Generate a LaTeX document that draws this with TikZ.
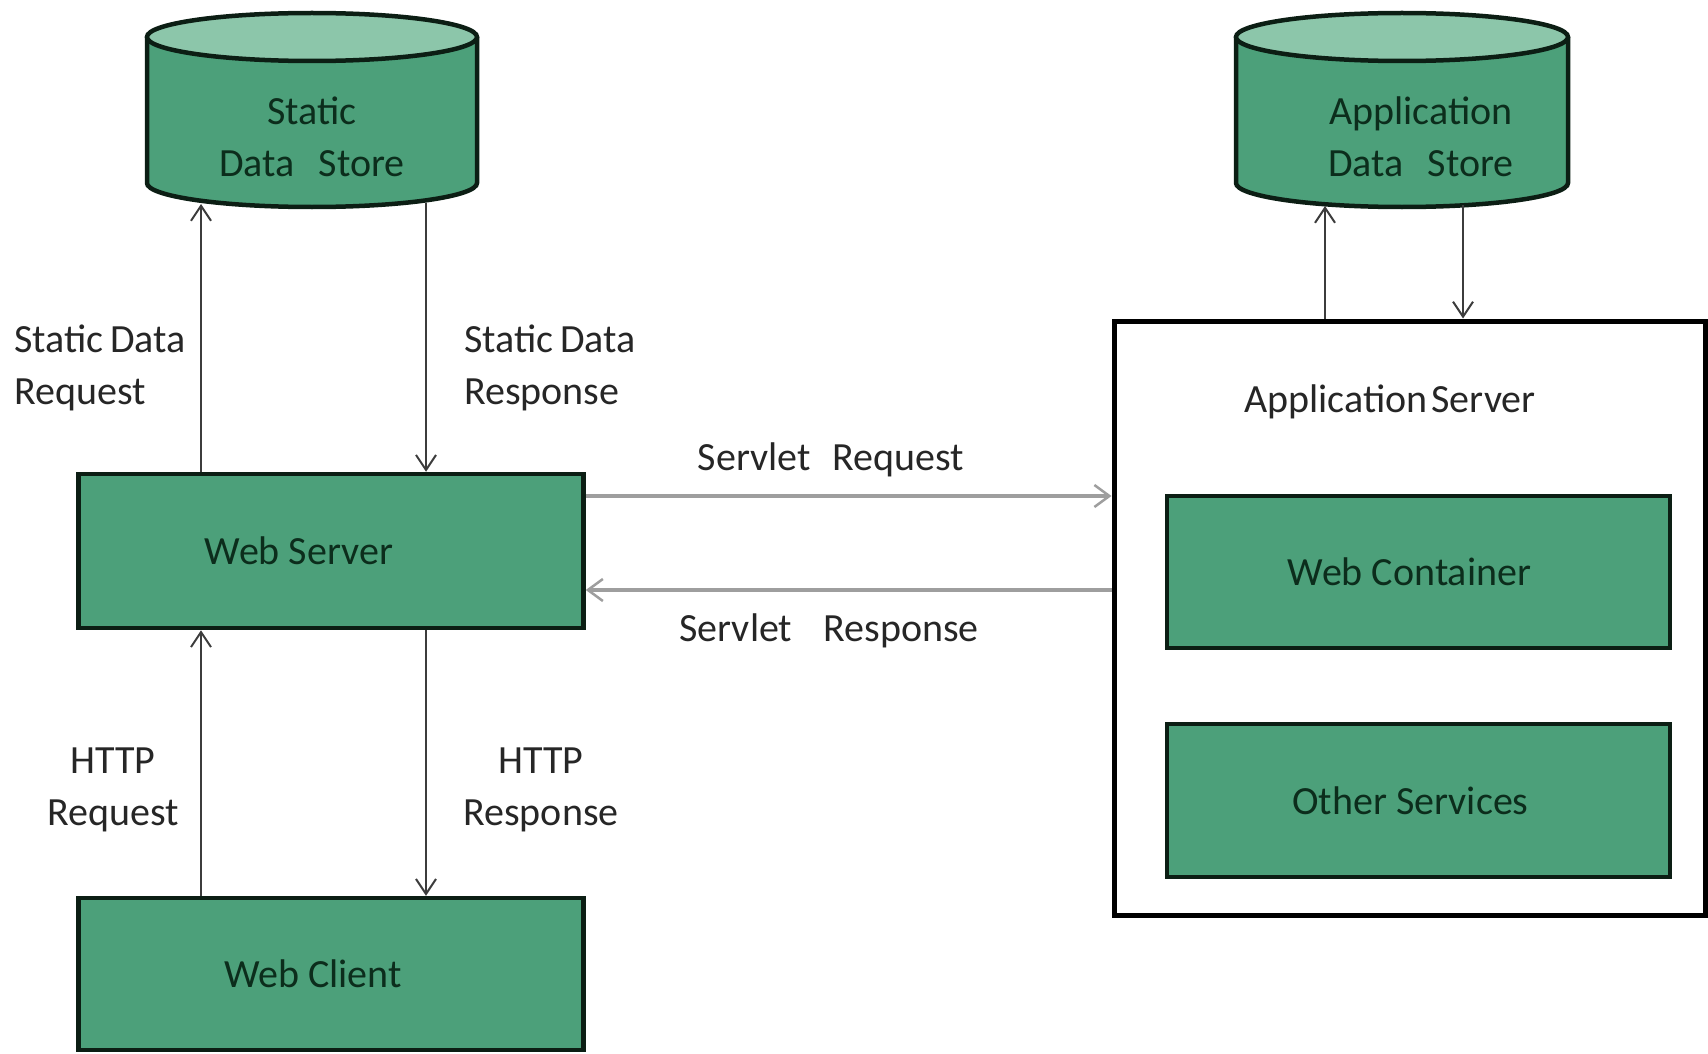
\documentclass[tikz,border=0pt]{standalone}
\usepackage{fontspec}
\setmainfont{Carlito}
\usetikzlibrary{arrows.meta}
\definecolor{boxgreen}{RGB}{76,160,122}
\definecolor{topgreen}{RGB}{140,198,170}
\definecolor{boxline}{RGB}{12,30,20}
\definecolor{boxtextc}{RGB}{12,45,28}
\definecolor{lblgray}{RGB}{38,38,38}
\definecolor{servgray}{RGB}{158,158,158}
\definecolor{vgray}{RGB}{60,60,60}
\newcommand{\bigtxt}{\fontsize{40}{52}\selectfont}
\tikzset{
  box/.style={draw=boxline, line width=4.5pt, fill=boxgreen, rectangle, inner sep=0pt},
  outerbox/.style={draw=black, line width=5pt, fill=white, rectangle, inner sep=0pt},
  boxtext/.style={text=boxtextc, font=\bigtxt, inner sep=0pt},
  cyltext/.style={text=boxtextc, font=\bigtxt, inner sep=0pt, align=center},
  lbl/.style={text=lblgray, font=\bigtxt, inner sep=0pt},
  cylbody/.style={fill=boxgreen},
  cylline/.style={draw=boxline, line width=4.5pt},
  cyltop/.style={fill=topgreen, draw=boxline, line width=4.5pt},
  varrow/.style={draw=vgray, line width=2pt, -{Straight Barb[length=15pt,width=20pt,line width=2pt]}},
  harrow/.style={draw=servgray, line width=4.5pt, -{Straight Barb[length=15pt,width=22pt,line width=2.5pt]}},
}
\begin{document}
\begin{tikzpicture}[x=1pt,y=-1pt]
\useasboundingbox (0,0) rectangle (1708,1054);

% Static data store cylinder
\fill[cylbody] (147,37) -- (147,183) arc[start angle=180,end angle=0,x radius=165,y radius=24] -- (477,37) -- cycle;
\draw[cylline] (147,37) -- (147,183) arc[start angle=180,end angle=0,x radius=165,y radius=24] -- (477,37);
\filldraw[cyltop] (312,37) ellipse [x radius=165, y radius=24];
\node[cyltext] (sds) at (312,137) {Static\\Data\hspace{0.6em}Store};

% Application data store cylinder
\fill[cylbody] (1236,37) -- (1236,183) arc[start angle=180,end angle=0,x radius=166,y radius=24] -- (1568,37) -- cycle;
\draw[cylline] (1236,37) -- (1236,183) arc[start angle=180,end angle=0,x radius=166,y radius=24] -- (1568,37);
\filldraw[cyltop] (1402,37) ellipse [x radius=166, y radius=24];
\node[cyltext] (ads) at (1421,137) {Application\\Data\hspace{0.6em}Store};

% connector end points on the cylinders
\coordinate (sdsA) at (201,204);
\coordinate (sdsB) at (426,203);
\coordinate (adsA) at (1325,206);
\coordinate (adsB) at (1463,205);

% boxes
\node[box, minimum width=505pt, minimum height=154pt,
      label={[boxtext,xshift=-32pt]center:Web Server}] (ws) at (331,551) {};
\node[box, minimum width=505pt, minimum height=152pt,
      label={[boxtext,xshift=-18pt]center:Web Client}] (wc) at (331,974) {};
\node[outerbox, minimum width=591pt, minimum height=594pt] (as) at (1409.5,618) {};
\node[lbl] (astxt) at (1390,402) {Application\hspace{0.1em}Server};
\node[box, minimum width=503pt, minimum height=152pt,
      label={[boxtext,xshift=-9pt]center:Web Container}] (wcont) at (1418.5,572) {};
\node[box, minimum width=503pt, minimum height=153pt,
      label={[boxtext,xshift=-8pt]center:Other Services}] (os) at (1418.5,800.5) {};

% vertical connectors
\draw[varrow] (ws.north -| sdsA) -- (sdsA);
\draw[varrow] (sdsB) -- (ws.north -| sdsB);
\draw[varrow] (wc.north -| sdsA) -- (ws.south -| sdsA);
\draw[varrow] (ws.south -| sdsB) -- (wc.north -| sdsB);
\draw[varrow] (as.north -| adsA) -- (adsA);
\draw[varrow] (adsB) -- (as.north -| adsB);

% servlet connectors
\draw[harrow] ([yshift=55pt]ws.east) -- ([yshift=55pt]ws.east -| as.west);
\draw[harrow] ([yshift=-39pt]ws.east -| as.west) -- ([yshift=-39pt]ws.east);

% labels
\node[lbl, anchor=west, align=left] (l1) at (14,368) {Static\,Data\\Request};
\node[lbl, anchor=west, align=left] (l2) at (464,368) {Static\,Data\\Response};
\node[lbl, align=center] (l3) at (113,790) {HTTP\\Request};
\node[lbl, align=center] (l4) at (541,790) {HTTP\\Response};
\node[lbl, anchor=base] (l5) at (831,470) {Servlet\hspace{0.55em}Request};
\node[lbl, anchor=base] (l6) at (829,641) {Servlet\hspace{0.78em}Response};
\end{tikzpicture}
\end{document}
